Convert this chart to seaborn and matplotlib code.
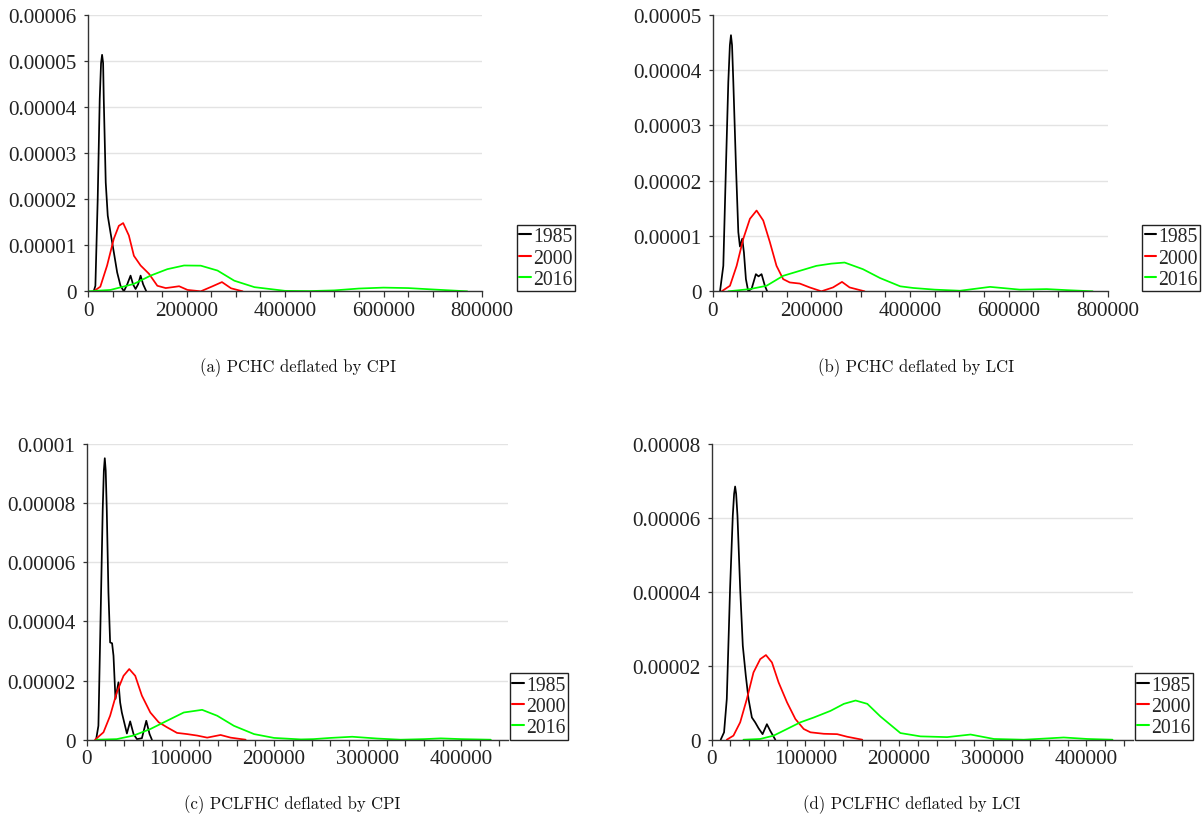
import numpy as np
import pandas as pd
import matplotlib
matplotlib.use("Agg")
import matplotlib.pyplot as plt
import seaborn as sns
from matplotlib.ticker import MultipleLocator, FuncFormatter

# ---------------- data (densities in units of 1e-5) ----------------
UNIT = 1e-5
years = ["1985", "2000", "2016"]
colors = ["#000000", "#ff0000", "#00ff00"]

# (a) PCHC deflated by CPI
a85_x = [11600, 15000, 19700, 23800, 26500, 28600, 30700, 32000, 36000, 40100, 45600, 52400, 59200, 66000,
         72800, 79600, 86400, 91500, 96600, 101700, 106800, 112000, 118400]
a85_y = [0, 0.12, 2.0, 4.17, 4.95, 5.13, 4.95, 4.17, 2.36, 1.64, 1.28, 0.85, 0.41, 0.12,
         0, 0.15, 0.34, 0.15, 0.05, 0.15, 0.34, 0.15, 0]
a00_x = [11600, 25000, 38800, 52400, 62600, 71400, 83000, 93200, 106800, 123800, 140800, 157800,
         172000, 185000, 202000, 229000, 253000, 272000, 290500, 314000]
a00_y = [0, 0.1, 0.56, 1.14, 1.42, 1.48, 1.21, 0.77, 0.56, 0.38, 0.12, 0.07,
         0.09, 0.11, 0.03, 0, 0.11, 0.2, 0.065, 0]
a16_x = [0, 45600, 93200, 127000, 161000, 195000, 229000, 263000, 297000, 338000, 400000,
         450000, 500000, 550000, 600000, 650000, 700000, 770000]
a16_y = [0, 0.03, 0.16, 0.34, 0.48, 0.56, 0.556, 0.45, 0.23, 0.09, 0.01,
         0.005, 0.02, 0.06, 0.08, 0.07, 0.04, 0]

# (b) PCHC deflated by LCI
b85_x = [14800, 21500, 26900, 31600, 34800, 37000, 39200, 41800, 47100, 51900, 55200, 59900, 63300, 67300,
         72000, 79000, 87500, 92900, 99000, 105700, 110400]
b85_y = [0, 0.46, 2.27, 3.78, 4.45, 4.63, 4.45, 3.78, 2.27, 1.07, 0.81, 0.95, 0.7, 0.22,
         0, 0.05, 0.31, 0.27, 0.31, 0.1, 0]
b00_x = [18200, 35000, 48500, 62000, 75400, 88900, 102400, 115800, 129300, 142800, 156200,
         176400, 196600, 220200, 243800, 262000, 277400, 307700]
b00_y = [0, 0.1, 0.46, 0.95, 1.31, 1.46, 1.28, 0.89, 0.46, 0.22, 0.16,
         0.14, 0.07, 0, 0.07, 0.17, 0.07, 0]
b16_x = [31600, 75400, 109100, 142800, 176400, 210100, 240000, 267300, 304400, 339000, 380000,
         406500, 450000, 501000, 562000, 622600, 676700, 720000, 770000]
b16_y = [0, 0.04, 0.1, 0.28, 0.37, 0.46, 0.5, 0.52, 0.4, 0.24, 0.09,
         0.06, 0.03, 0.01, 0.08, 0.03, 0.04, 0.02, 0]

# (c) PCLFHC deflated by CPI
c85_x = [10000, 12500, 15000, 17100, 18300, 19300, 20300, 21400, 23200, 25000, 27100, 28600, 30700, 33900,
         35700, 37500, 40000, 42900, 46400, 50000, 53600, 58900, 63600, 67100, 69600]
c85_y = [0, 0.47, 4.42, 7.8, 9.1, 9.52, 9.1, 7.8, 4.98, 3.29, 3.26, 2.84, 1.38, 1.94,
         1.26, 0.92, 0.59, 0.21, 0.62, 0.19, 0.02, 0.05, 0.64, 0.19, 0]
c00_x = [8900, 17900, 25000, 32100, 39300, 45400, 51800, 58900, 67900, 76800, 85700, 96400,
         107100, 117900, 128600, 142900, 153600, 169600]
c00_y = [0, 0.25, 0.81, 1.6, 2.16, 2.39, 2.16, 1.49, 0.92, 0.59, 0.42, 0.23,
         0.19, 0.14, 0.07, 0.16, 0.07, 0]
c16_x = [10700, 32100, 50000, 67900, 85700, 103600, 123200, 139300, 157100, 178600, 200000,
         228600, 242000, 260000, 283400, 310000, 335000, 360000, 377900, 400000, 431300]
c16_y = [0, 0.02, 0.14, 0.36, 0.64, 0.92, 1.01, 0.81, 0.47, 0.19, 0.06,
         0.01, 0.02, 0.06, 0.1, 0.04, 0, 0.02, 0.045, 0.02, 0]

# (d) PCLFHC deflated by LCI
d85_x = [9600, 13200, 16100, 19600, 22500, 23900, 25000, 26100, 27500, 30400, 33200, 36400, 39300, 42900,
         46400, 50000, 54300, 58900, 62500, 67900]
d85_y = [0, 0.2, 1.1, 4.08, 6.06, 6.65, 6.85, 6.65, 6.06, 4.08, 2.54, 1.73, 1.1, 0.6,
         0.47, 0.31, 0.15, 0.42, 0.24, 0]
d00_x = [16100, 23200, 30400, 37500, 44600, 51800, 57900, 64300, 71400, 80400, 89300, 98200,
         105400, 119600, 133900, 144600, 160700]
d00_y = [0, 0.11, 0.47, 1.1, 1.82, 2.18, 2.29, 2.09, 1.55, 1.01, 0.56, 0.29,
         0.2, 0.16, 0.15, 0.08, 0]
d16_x = [33900, 51800, 66100, 80400, 94600, 108900, 126800, 141100, 153600, 166100, 180000,
         201400, 222800, 251300, 276300, 301200, 333000, 355000, 375700, 401000, 427800]
d16_y = [0, 0.02, 0.11, 0.29, 0.47, 0.6, 0.78, 0.97, 1.06, 0.97, 0.63,
         0.18, 0.09, 0.07, 0.14, 0.02, 0, 0.03, 0.06, 0.02, 0]

captions = ["(a) PCHC deflated by CPI", "(b) PCHC deflated by LCI",
            "(c) PCLFHC deflated by CPI", "(d) PCLFHC deflated by LCI"]
panel_series = [
    [(a85_x, a85_y), (a00_x, a00_y), (a16_x, a16_y)],
    [(b85_x, b85_y), (b00_x, b00_y), (b16_x, b16_y)],
    [(c85_x, c85_y), (c00_x, c00_y), (c16_x, c16_y)],
    [(d85_x, d85_y), (d00_x, d00_y), (d16_x, d16_y)],
]
y_max = [6e-5, 5e-5, 1e-4, 8e-5]
y_step = [1e-5, 1e-5, 2e-5, 2e-5]
x_max = [800000, 800000, 450000, 450000]
x_major = [200000, 200000, 100000, 100000]
x_minor = [50000, 50000, 20000, 20000]

# ---------------- style ----------------
sns.set_theme(style="white")
plt.rcParams["font.family"] = ["Liberation Serif", "DejaVu Serif"]
FS = 15.2
LFS = 14.2
plt.rcParams["font.size"] = FS

fig = plt.figure(figsize=(12.04, 8.29), dpi=100)
W, H = 1204, 829
# axes boxes in pixels: left, right, top, bottom
boxes = [(88, 482, 15.7, 292.3), (712.7, 1107.5, 15.7, 292.3),
         (86.7, 508.3, 445, 740.7), (711.7, 1133.3, 445, 740.7)]
legend_dx = [1.088, 1.088, 1.004, 1.004]
cap_pos = [(298, 368), (916, 368), (292, 805), (912, 805)]


def yfmt(v, pos):
    if abs(v) < 1e-12:
        return "0"
    return "{:.5f}".format(v).rstrip("0")


palette = dict(zip(years, colors))

for i in range(4):
    l, r, t, b = boxes[i]
    ax = fig.add_axes([l / W, 1 - b / H, (r - l) / W, (b - t) / H])
    rows = []
    for yr, (xs, ys) in zip(years, panel_series[i]):
        for xv, yv in zip(xs, ys):
            rows.append({"x": xv, "density": yv * UNIT, "year": yr})
    df = pd.DataFrame(rows)
    sns.lineplot(data=df, x="x", y="density", hue="year", palette=palette,
                 estimator=None, sort=False, linewidth=1.25, ax=ax)
    for ln in ax.get_lines():
        ln.set_solid_joinstyle("round")
    ax.set_xlim(0, x_max[i])
    ax.set_ylim(0, y_max[i])
    ax.xaxis.set_major_locator(MultipleLocator(x_major[i]))
    ax.xaxis.set_minor_locator(MultipleLocator(x_minor[i]))
    ax.yaxis.set_major_locator(MultipleLocator(y_step[i]))
    ax.yaxis.set_major_formatter(FuncFormatter(yfmt))
    ax.xaxis.set_major_formatter(FuncFormatter(lambda v, p: "%d" % round(v)))
    ax.set_xlabel("")
    ax.set_ylabel("")
    ax.grid(axis="y", color="#e3e3e3", linewidth=1.0)
    ax.grid(axis="x", visible=False)
    ax.set_axisbelow(True)
    for s in ["top", "right"]:
        ax.spines[s].set_visible(False)
    for s in ["left", "bottom"]:
        ax.spines[s].set_color("#333333")
        ax.spines[s].set_linewidth(1.0)
    ax.tick_params(axis="x", which="both", bottom=True, direction="out", length=4,
                   width=0.9, color="#333333", labelsize=FS, labelcolor="#222222", pad=3)
    ax.tick_params(axis="y", which="major", left=True, direction="out", length=3,
                   width=0.9, color="#333333", labelsize=FS, labelcolor="#222222", pad=5)
    sns.move_legend(ax, "lower left", bbox_to_anchor=(legend_dx[i], 0.0), title=None,
                    frameon=True, fancybox=False, edgecolor="#222222", framealpha=1,
                    borderpad=0.12, handlelength=0.6, handletextpad=0.1,
                    labelspacing=0.12, borderaxespad=0.0, fontsize=LFS)
    leg = ax.get_legend()
    leg.get_frame().set_linewidth(1.0)
    for line in leg.get_lines():
        line.set_linewidth(1.5)

    cx, cy = cap_pos[i]
    fig.text(cx / W, 1 - cy / H, captions[i], family="cmr10", fontsize=12,
             ha="center", va="center", color="#111111")

fig.savefig("out.png", dpi=100)
